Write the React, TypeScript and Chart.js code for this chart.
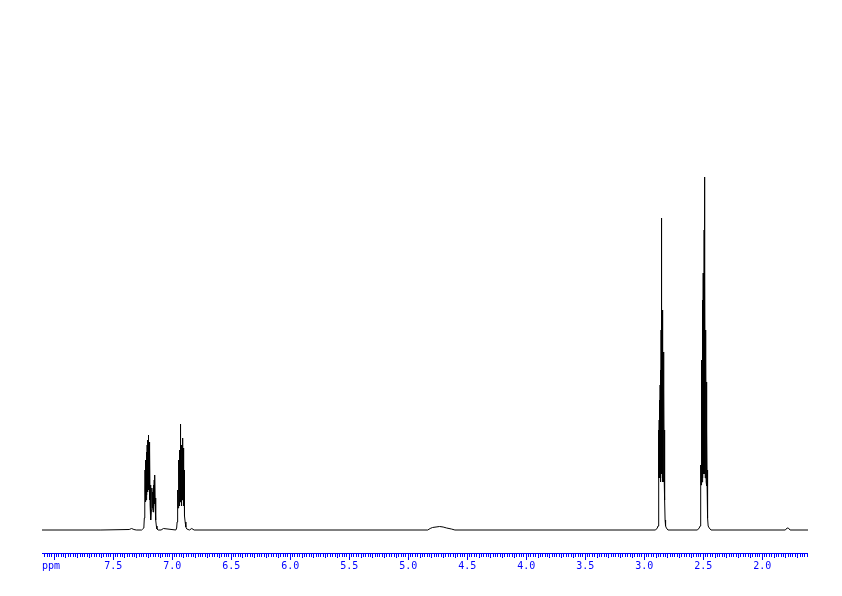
import React, { useEffect, useRef } from "react";
import { Chart, registerables } from "chart.js";

Chart.register(...registerables);

// Axis range (ppm, reversed NMR axis)
const axisMax = 8.099;
const axisMin = 1.608;
const axisUnit = "ppm";
const majorTickValues = [7.5, 7.0, 6.5, 6.0, 5.5, 5.0, 4.5, 4.0, 3.5, 3.0, 2.5, 2.0];
const majorTickLabels = ["7.5", "7.0", "6.5", "6.0", "5.5", "5.0", "4.5", "4.0", "3.5", "3.0", "2.5", "2.0"];

// Spectrum segments: chemical shift (ppm) and intensity
const baselineStartShifts = [8.099, 7.6, 7.36, 7.34, 7.32, 7.3];
const baselineStartIntensity = [0, 0, 0.5, 1.5, 0.5, 0];

const aromaticAShifts = [
  7.255, 7.245, 7.236, 7.232, 7.228, 7.226, 7.223, 7.22, 7.217, 7.214, 7.211, 7.208, 7.205,
  7.202, 7.2, 7.198, 7.195, 7.192, 7.189, 7.186, 7.183, 7.18, 7.176, 7.172, 7.168, 7.165,
  7.161, 7.158, 7.155, 7.152, 7.148, 7.145, 7.143, 7.14, 7.137, 7.134, 7.13, 7.125, 7.115,
];
const aromaticAIntensity = [
  0, 1, 2, 12, 40, 60, 28, 70, 30, 78, 35, 85, 38,
  90, 45, 95, 40, 88, 30, 80, 25, 45, 10, 20, 42, 22,
  38, 18, 45, 24, 50, 26, 55, 24, 32, 10, 4, 1, 0,
];

const aromaticBShifts = [
  7.09, 7.07, 6.965, 6.958, 6.954, 6.951, 6.948, 6.946, 6.943, 6.941, 6.939, 6.937, 6.935,
  6.933, 6.931, 6.929, 6.927, 6.925, 6.923, 6.921, 6.919, 6.917, 6.915, 6.913, 6.911, 6.909,
  6.907, 6.905, 6.903, 6.901, 6.899, 6.897, 6.895, 6.893, 6.89, 6.886, 6.88, 6.872, 6.85,
  6.83, 6.81,
];
const aromaticBIntensity = [
  0, 1.5, 0, 2, 8, 20, 40, 22, 60, 25, 70, 28, 65,
  24, 80, 28, 75, 106, 30, 70, 24, 75, 26, 85, 30, 80,
  92, 30, 82, 26, 80, 24, 60, 18, 14, 8, 3, 1, 0,
  1.5, 0,
];

const waterShifts = [4.83, 4.81, 4.79, 4.76, 4.73, 4.7, 4.67, 4.63, 4.6];
const waterIntensity = [0, 1.5, 2.5, 3, 3.5, 3, 2, 1, 0];

const methyleneShifts = [
  2.9, 2.885, 2.879, 2.876, 2.874, 2.873, 2.872, 2.871, 2.869, 2.867, 2.865, 2.863, 2.861,
  2.859, 2.857, 2.855, 2.853, 2.851, 2.849, 2.847, 2.845, 2.843, 2.841, 2.839, 2.837, 2.835,
  2.833, 2.831, 2.829, 2.827, 2.825, 2.823, 2.821, 2.819, 2.815, 2.808, 2.795,
];
const methyleneIntensity = [
  0, 2, 4, 10, 30, 50, 100, 52, 110, 52, 130, 52, 145,
  48, 160, 52, 200, 56, 312, 56, 220, 52, 175, 48, 170, 52,
  178, 48, 140, 52, 100, 48, 30, 10, 4, 2, 0,
];

const dmsoShifts = [
  2.545, 2.53, 2.522, 2.519, 2.517, 2.516, 2.514, 2.512, 2.51, 2.508, 2.506, 2.504, 2.502,
  2.5, 2.498, 2.496, 2.494, 2.492, 2.49, 2.488, 2.486, 2.485, 2.483, 2.481, 2.479, 2.477,
  2.475, 2.473, 2.471, 2.469, 2.467, 2.465, 2.463, 2.461, 2.459, 2.457, 2.454, 2.445, 2.43,
];
const dmsoIntensity = [
  0, 2, 4, 12, 40, 65, 45, 100, 45, 170, 48, 202, 52,
  230, 52, 257, 56, 250, 56, 300, 60, 353, 56, 260, 52, 200,
  52, 172, 48, 148, 44, 100, 44, 60, 40, 12, 4, 2, 0,
];

const tailShifts = [1.8, 1.785, 1.775, 1.76, axisMin];
const tailIntensity = [0, 2, 2, 0, 0];

const shifts = [
  ...baselineStartShifts,
  ...aromaticAShifts,
  ...aromaticBShifts,
  ...waterShifts,
  ...methyleneShifts,
  ...dmsoShifts,
  ...tailShifts,
];
const intensity = [
  ...baselineStartIntensity,
  ...aromaticAIntensity,
  ...aromaticBIntensity,
  ...waterIntensity,
  ...methyleneIntensity,
  ...dmsoIntensity,
  ...tailIntensity,
];

const AXIS_BLUE = "#0000ff";

const ppmAxisPlugin = {
  id: "ppmAxis",
  afterDraw(chart: any) {
    const ctx = chart.ctx as CanvasRenderingContext2D;
    const xs = chart.scales.x;
    const left = chart.chartArea.left;
    const right = chart.chartArea.right;
    const axisY = 553;
    ctx.save();
    ctx.fillStyle = AXIS_BLUE;
    ctx.fillRect(left, axisY, right - left, 1);
    // ticks every 0.02 ppm
    const start = Math.ceil(axisMin / 0.02);
    const end = Math.floor(axisMax / 0.02);
    for (let k = start; k <= end; k++) {
      const v = k * 0.02;
      const px = Math.round(xs.getPixelForValue(v));
      let len = 3;
      if (k % 25 === 0) len = 6;
      else if (k % 5 === 0) len = 4;
      ctx.fillRect(px, axisY + 1, 1, len);
    }
    ctx.font = "10px 'DejaVu Sans Mono', monospace";
    ctx.textBaseline = "alphabetic";
    ctx.textAlign = "center";
    majorTickValues.forEach((v, i) => {
      const px = xs.getPixelForValue(v);
      ctx.fillText(majorTickLabels[i], px + 0.5, 569);
    });
    ctx.textAlign = "left";
    ctx.fillText(axisUnit, left, 569);
    ctx.restore();
  },
};

export default function App() {
  const canvasRef = useRef<HTMLCanvasElement | null>(null);

  useEffect(() => {
    const canvas = canvasRef.current;
    if (!canvas) return;
    const chart = new Chart(canvas, {
      type: "line",
      data: {
        datasets: [
          {
            data: shifts.map((s, i) => ({ x: s, y: intensity[i] })),
            borderColor: "#000000",
            borderWidth: 1,
            pointRadius: 0,
            tension: 0,
            fill: false,
            clip: false as any,
          },
        ],
      },
      options: {
        responsive: false,
        animation: false,
        devicePixelRatio: 1,
        layout: { padding: { left: 42, right: 34, top: 30, bottom: 66 } },
        scales: {
          x: { type: "linear", reverse: true, min: axisMin, max: axisMax, display: false },
          y: { type: "linear", min: 0, max: 500, display: false },
        },
        plugins: {
          legend: { display: false },
          tooltip: { enabled: false },
        },
      },
      plugins: [ppmAxisPlugin],
    });
    return () => chart.destroy();
  }, []);

  return (
    <div style={{ position: "absolute", left: 0, top: 0, width: 842, height: 596, background: "#ffffff" }}>
      <canvas ref={canvasRef} width={842} height={596} />
    </div>
  );
}
